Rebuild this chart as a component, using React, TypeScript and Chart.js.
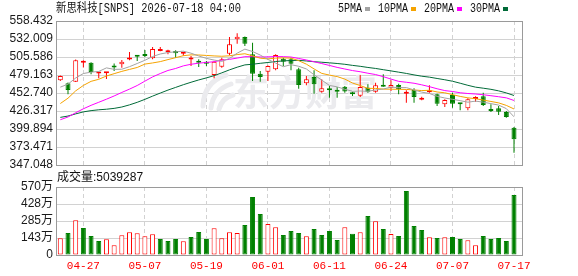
import React, { useEffect, useRef } from 'react';
import { Chart, registerables } from 'chart.js';

Chart.register(...registerables);

// ---------------- data ----------------
const stockTitle = '新思科技[SNPS] 2026-07-18 04:00';
const watermarkText = '东方财富';
const volumeLabel = '成交量';

const dates = [
  '04-22', '04-23', '04-24', '04-27', '04-28', '04-29', '04-30', '05-01', '05-04', '05-05',
  '05-06', '05-07', '05-08', '05-11', '05-12', '05-13', '05-14', '05-15', '05-18', '05-19',
  '05-20', '05-21', '05-22', '05-26', '05-27', '05-28', '05-29', '06-01', '06-02', '06-03',
  '06-04', '06-05', '06-08', '06-09', '06-10', '06-11', '06-12', '06-15', '06-16', '06-17',
  '06-18', '06-22', '06-23', '06-24', '06-25', '06-26', '06-29', '06-30', '07-01', '07-02',
  '07-06', '07-07', '07-08', '07-09', '07-10', '07-13', '07-14', '07-15', '07-16', '07-17',
];
const labelledDates = ['04-27', '05-07', '05-19', '06-01', '06-11', '06-24', '07-07', '07-17'];

const opens = [
  471.3, 466.9, 469.4, 497.0, 497.3, 481.5, 481.8, 491.0, 494.8, 502.0,
  506.3, 507.5, 503.6, 514.5, 512.5, 514.4, 510.2, 501.8, 497.5, 496.3,
  479.2, 491.4, 510.5, 531.5, 534.9, 509.5, 481.1, 484.1, 487.5, 503.1,
  502.2, 487.5, 466.9, 476.2, 454.7, 457.6, 457.0, 462.0, 451.5, 448.8,
  460.6, 454.7, 464.5, 460.6, 464.5, 451.8, 457.1, 443.0, 454.0, 450.8,
  436.1, 449.8, 436.6, 430.2, 444.0, 447.9, 426.8, 430.2, 424.8, 401.8,
];
const highs = [
  478.5, 468.0, 502.0, 500.7, 498.0, 482.8, 483.6, 496.0, 501.2, 512.9,
  508.0, 515.9, 520.3, 520.3, 516.3, 515.4, 513.4, 507.0, 502.2, 499.7,
  499.5, 504.6, 534.9, 540.3, 535.5, 526.6, 485.0, 493.0, 509.5, 504.6,
  504.6, 489.9, 477.7, 486.0, 472.8, 463.0, 461.5, 463.0, 454.7, 479.2,
  465.5, 467.9, 480.1, 471.3, 466.4, 456.7, 459.6, 447.4, 464.0, 451.5,
  443.4, 453.2, 436.8, 444.9, 447.9, 453.2, 436.1, 433.6, 426.3, 402.8,
];
const lows = [
  470.5, 450.8, 469.0, 490.0, 480.1, 474.3, 473.3, 485.0, 489.9, 500.7,
  499.7, 505.6, 502.2, 513.9, 509.5, 504.6, 507.5, 492.4, 490.9, 492.4,
  474.3, 489.9, 508.0, 525.2, 521.7, 470.4, 469.4, 470.4, 486.0, 492.4,
  486.0, 459.1, 464.0, 451.8, 453.2, 445.9, 445.9, 453.2, 448.4, 446.9,
  453.2, 453.2, 462.0, 455.7, 450.8, 438.5, 438.5, 442.0, 453.2, 433.6,
  432.2, 431.2, 427.3, 427.3, 440.0, 433.6, 424.8, 420.4, 416.5, 365.2,
];
const closes = [
  477.7, 457.1, 500.7, 497.8, 483.6, 482.6, 483.3, 490.0, 498.7, 502.4,
  505.8, 507.0, 517.5, 517.2, 513.3, 511.0, 511.8, 502.5, 497.0, 495.5,
  498.7, 502.2, 524.2, 535.4, 525.2, 481.1, 476.2, 492.4, 508.5, 498.7,
  495.8, 464.5, 472.8, 465.5, 459.6, 456.6, 454.5, 455.0, 450.8, 461.5,
  454.7, 464.0, 462.0, 464.5, 458.1, 454.7, 446.9, 445.9, 454.7, 437.1,
  442.5, 437.1, 436.1, 443.4, 444.9, 435.1, 426.3, 425.3, 417.5, 384.7,
];
// closes of the 29 sessions before the window (estimated from where the MA lines start)
const priorCloses = [
  398, 406, 410, 428, 446, 458, 453, 438, 408, 394,
  376, 376, 382, 382, 393, 393, 395, 395, 405, 400,
  379, 392.7, 418, 423.6, 452.6, 435, 456, 464.7, 473.4,
];
const volumes = [
  1400000, 1840000, 2910000, 2260000, 1590000, 1170000, 1310000, 810000, 1650000, 1900000,
  1820000, 1570000, 1730000, 1340000, 1170000, 1340000, 1150000, 1510000, 1930000, 1340000,
  2240000, 1400000, 1900000, 1840000, 2510000, 4860000, 3440000, 2600000, 2320000, 1680000,
  2010000, 1840000, 1570000, 2180000, 1680000, 2010000, 1260000, 2320000, 1790000, 1900000,
  3270000, 2820000, 2180000, 1760000, 1590000, 5360000, 2430000, 2100000, 1480000, 1420000,
  1480000, 1510000, 1340000, 1230000, 810000, 1590000, 1340000, 1420000, 1170000, 5039287,
];

const priceTicks = ['347.048', '373.471', '399.894', '426.317', '452.740', '479.163', '505.586', '532.009', '558.432'];
const volumeTicks = [0, 1425000, 2850000, 4275000, 5700000];
const volumeTickLabels = ['0', '143万', '285万', '428万', '570万'];

const maPeriods = [5, 10, 20, 30];
const maNames = ['5PMA', '10PMA', '20PMA', '30PMA'];
const maColors = ['#a3a3a3', '#f5a300', '#ff00ff', '#006a38'];

// ---------------- styles ----------------
const UP = '#ff0000';
const DOWN = '#008000';
const GRID = '#d2d2d2';
const FRAME = '#9a9a9a';
const X_MIN = -0.56;
const X_MAX = 60.04;
const SANS = '"Liberation Sans", Arial, "Noto Sans CJK SC", sans-serif';
const MONO = '"Liberation Mono", "Noto Sans CJK SC", monospace';

function movingAverage(n: number) {
  const all = priorCloses.concat(closes);
  const off = priorCloses.length;
  return closes.map((_, i) => {
    let s = 0;
    for (let k = 0; k < n; k++) s += all[off + i - k];
    return { x: i, y: s / n };
  });
}

const tickIndex = labelledDates.map((d) => dates.indexOf(d));
const candleUp = closes.map((c, i) => c >= opens[i]);
const volumeUp = closes.map((c, i) => (i === 0 ? c >= opens[0] : c >= closes[i - 1]));

function xAxis(showLabels: boolean) {
  return {
    type: 'linear',
    min: X_MIN,
    max: X_MAX,
    bounds: 'data',
    offset: false,
    afterBuildTicks: (s: any) => {
      s.ticks = tickIndex.map((v) => ({ value: v }));
    },
    afterFit: (s: any) => {
      s.height = showLabels ? 21 : 0;
    },
    grid: { color: GRID, drawTicks: false, offset: false, lineWidth: 1 },
    border: { display: false, dash: [4, 3] },
    ticks: showLabels
      ? {
          display: true,
          autoSkip: false,
          maxRotation: 0,
          padding: 4,
          color: UP,
          font: { family: MONO, size: 11 },
          callback: (v: any) => dates[Math.round(v)],
        }
      : { display: false },
  };
}

function drawFrame(chart: any) {
  const { left, top, right, bottom } = chart.chartArea;
  const ctx = chart.ctx;
  ctx.save();
  ctx.strokeStyle = FRAME;
  ctx.lineWidth = 1;
  ctx.strokeRect(Math.round(left) + 0.5, Math.round(top) + 0.5, Math.round(right - left), Math.round(bottom - top));
  ctx.restore();
}

const mainDecor = {
  id: 'mainDecor',
  beforeDatasetsDraw(chart: any) {
    const ctx = chart.ctx;
    ctx.save();
    const wm = '#ebebee';
    ctx.fillStyle = wm;
    ctx.strokeStyle = wm;
    ctx.font = 'bold 36px "Noto Sans CJK SC"';
    ctx.textBaseline = 'middle';
    ctx.textAlign = 'left';
    ctx.fillText(watermarkText, 233, 92, 146);
    ctx.lineCap = 'round';
    ctx.lineWidth = 5;
    ctx.beginPath();
    ctx.moveTo(203, 106);
    ctx.quadraticCurveTo(204, 82, 226, 75);
    ctx.stroke();
    ctx.beginPath();
    ctx.moveTo(211, 108);
    ctx.quadraticCurveTo(213, 90, 231, 84);
    ctx.stroke();
    ctx.beginPath();
    ctx.moveTo(219, 109);
    ctx.quadraticCurveTo(222, 98, 233, 95);
    ctx.stroke();
    ctx.restore();
  },
  afterDraw(chart: any) {
    drawFrame(chart);
    const ctx = chart.ctx;
    ctx.save();
    ctx.fillStyle = '#111';
    ctx.font = '12px ' + MONO;
    ctx.textBaseline = 'middle';
    ctx.textAlign = 'left';
    ctx.fillText(stockTitle, 56, 9, 185);
    let x = 338;
    maNames.forEach((name, k) => {
      const w = name.length * 6;
      ctx.fillStyle = '#111';
      ctx.fillText(name, x, 9, w);
      x += w + 3;
      ctx.fillStyle = maColors[k];
      ctx.fillRect(x, 7, 5, 4);
      x += 5 + 8;
    });
    ctx.restore();
  },
};

const volDecor = {
  id: 'volDecor',
  afterDraw(chart: any) {
    drawFrame(chart);
    const ctx = chart.ctx;
    ctx.save();
    ctx.fillStyle = '#111';
    ctx.font = '12px ' + SANS;
    ctx.textBaseline = 'middle';
    ctx.textAlign = 'left';
    ctx.fillText(volumeLabel + ':' + volumes[volumes.length - 1], 57, 177.5);
    ctx.restore();
  },
};

export default function App() {
  const mainRef = useRef<HTMLCanvasElement>(null);
  const volRef = useRef<HTMLCanvasElement>(null);

  useEffect(() => {
    const maSets = maPeriods.map((n, k) => ({
      type: 'line',
      data: movingAverage(n),
      borderColor: maColors[k],
      borderWidth: 1,
      pointRadius: 0,
      tension: 0,
      order: 0,
    }));

    const main = new Chart(mainRef.current as HTMLCanvasElement, {
      type: 'bar',
      data: {
        datasets: [
          ...maSets,
          {
            type: 'bar',
            data: closes.map((c, i) => ({ x: i, y: [opens[i], c] })),
            backgroundColor: candleUp.map((u) => (u ? '#ffffff' : DOWN)),
            borderColor: candleUp.map((u) => (u ? UP : DOWN)),
            borderWidth: 1,
            borderSkipped: false,
            barThickness: 5,
            minBarLength: 2,
            grouped: false,
            inflateAmount: 0,
            order: 1,
          },
          {
            type: 'bar',
            data: closes.map((_, i) => ({ x: i, y: [lows[i], highs[i]] })),
            backgroundColor: candleUp.map((u) => (u ? UP : DOWN)),
            borderWidth: 0,
            barThickness: 1,
            grouped: false,
            inflateAmount: 0,
            order: 2,
          },
        ] as any,
      },
      options: {
        responsive: false,
        animation: false,
        devicePixelRatio: 1,
        events: [],
        layout: { padding: { left: 0, right: 56, top: 21, bottom: 111 } },
        plugins: { legend: { display: false }, tooltip: { enabled: false } },
        scales: {
          x: xAxis(false) as any,
          y: {
            type: 'linear',
            min: parseFloat(priceTicks[0]),
            max: parseFloat(priceTicks[priceTicks.length - 1]),
            bounds: 'data',
            afterBuildTicks: (s: any) => {
              s.ticks = priceTicks.map((t) => ({ value: parseFloat(t) }));
            },
            afterFit: (s: any) => {
              s.width = 56;
            },
            grid: { color: GRID, drawTicks: false, lineWidth: 1 },
            border: { display: false },
            ticks: {
              autoSkip: false,
              padding: 3,
              color: '#1a1a1a',
              font: { family: SANS, size: 12 },
              callback: (v: any) => Number(v).toFixed(3),
            },
          } as any,
        },
      },
      plugins: [mainDecor],
    });

    const vol = new Chart(volRef.current as HTMLCanvasElement, {
      type: 'bar',
      data: {
        datasets: [
          {
            type: 'bar',
            data: volumes.map((v, i) => ({ x: i, y: v })),
            backgroundColor: volumeUp.map((u) => (u ? '#ffffff' : DOWN)),
            borderColor: volumeUp.map((u) => (u ? UP : DOWN)),
            borderWidth: 1,
            borderSkipped: false,
            barThickness: 5,
            grouped: false,
            inflateAmount: 0,
          },
        ] as any,
      },
      options: {
        responsive: false,
        animation: false,
        devicePixelRatio: 1,
        events: [],
        layout: { padding: { left: 0, right: 56, top: 187, bottom: 0 } },
        plugins: { legend: { display: false }, tooltip: { enabled: false } },
        scales: {
          x: xAxis(true) as any,
          y: {
            type: 'linear',
            min: volumeTicks[0],
            max: volumeTicks[volumeTicks.length - 1],
            bounds: 'data',
            afterBuildTicks: (s: any) => {
              s.ticks = volumeTicks.map((t) => ({ value: t }));
            },
            afterFit: (s: any) => {
              s.width = 56;
            },
            grid: { color: GRID, drawTicks: false, lineWidth: 1 },
            border: { display: false },
            ticks: {
              autoSkip: false,
              padding: 3,
              color: '#1a1a1a',
              font: { family: SANS, size: 12 },
              callback: (v: any) => volumeTickLabels[volumeTicks.indexOf(Number(v))],
            },
          } as any,
        },
      },
      plugins: [volDecor],
    });

    return () => {
      main.destroy();
      vol.destroy();
    };
  }, []);

  return (
    <div style={{ position: 'fixed', left: 0, top: 0, width: 578, height: 276, background: '#fff' }}>
      <canvas ref={mainRef} width={578} height={276} style={{ position: 'absolute', left: 0, top: 0 }} />
      <canvas ref={volRef} width={578} height={276} style={{ position: 'absolute', left: 0, top: 0 }} />
    </div>
  );
}
